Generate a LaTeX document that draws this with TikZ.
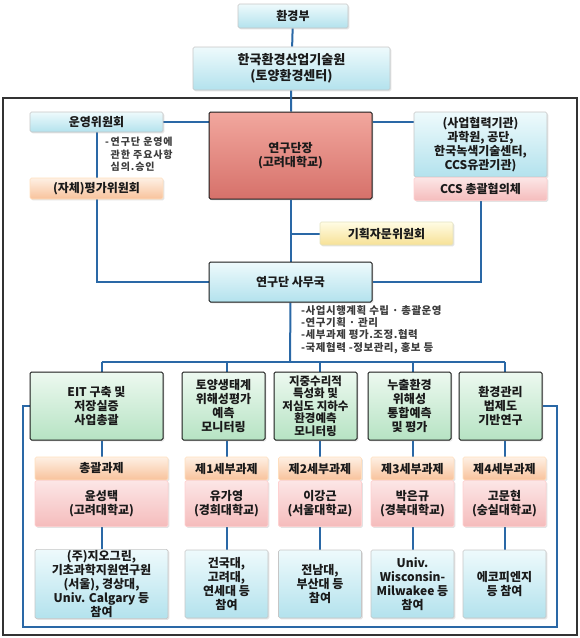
\documentclass[tikz,border=0pt]{standalone}
\usepackage{fontspec}
\setmainfont{Noto Sans CJK KR}
\usepackage{tikz}
\usetikzlibrary{positioning,shadows,backgrounds}
\definecolor{ink}{HTML}{1A1A1A}
\definecolor{linkblue}{HTML}{2A68A6}
\definecolor{skytop}{HTML}{EEFAFC}
\definecolor{skybot}{HTML}{B3E2ED}
\definecolor{redtop}{HTML}{F2A79E}
\definecolor{redbot}{HTML}{D6716A}
\definecolor{orgtop}{HTML}{FEF0E4}
\definecolor{orgbot}{HTML}{F8C29B}
\definecolor{pnktop}{HTML}{FCE6E6}
\definecolor{pnkbot}{HTML}{F5BCBC}
\definecolor{ylwtop}{HTML}{FFFCE4}
\definecolor{ylwbot}{HTML}{F7E196}
\definecolor{grntop}{HTML}{EDF9F0}
\definecolor{grnbot}{HTML}{B6E3C3}
\tikzset{
  box/.style={rounded corners=1.5pt,align=center,inner sep=1pt,text=ink,
              font=\bfseries\fontsize{12}{14}\selectfont,
              drop shadow={opacity=0.22,shadow xshift=1.3pt,shadow yshift=-1.3pt}},
  skybox/.style={box,draw=gray!45,line width=0.6pt,top color=skytop,bottom color=skybot},
  officebox/.style={box,draw=ink,line width=1pt,top color=skytop,bottom color=skybot},
  headbox/.style={box,draw=ink,line width=1pt,top color=redtop,bottom color=redbot},
  orgbox/.style={box,draw=orange!25,line width=0.6pt,top color=orgtop,bottom color=orgbot},
  pnkbox/.style={box,draw=red!18,line width=0.6pt,top color=pnktop,bottom color=pnkbot},
  ylwbox/.style={box,draw=yellow!40!gray!40,line width=0.6pt,top color=ylwtop,bottom color=ylwbot},
  grnbox/.style={box,draw=ink,line width=1pt,top color=grntop,bottom color=grnbot},
  note/.style={align=left,inner sep=0pt,text=ink!85,
               font=\bfseries\fontsize{10}{12.5}\selectfont\addfontfeature{LetterSpace=9}},
  link/.style={draw=linkblue,line width=2pt},
  frame/.style={draw=black!80,line width=1.4pt}
}

\begin{document}
\begin{tikzpicture}[x=1pt,y=-1pt]
    \path[use as bounding box] (0,0) rectangle (580,638);

    \node[skybox,minimum width=110pt,minimum height=24pt] (moe) at (293,16) {환경부};
    \node[skybox,font=\bfseries\fontsize{13}{16}\selectfont,
          minimum width=197pt,minimum height=43pt] (keiti) at (291.5,68.5)
      {한국환경산업기술원\\(토양환경센터)};

    \node[skybox,minimum width=133pt,minimum height=20pt] (steer) at (96.5,122) {운영위원회};
    \node[orgbox,minimum width=133pt,minimum height=21pt] (evalc) at (96.5,188.5) {(자체)평가위원회};
    \node[note,anchor=north west] (steernote) at (105,137)
      {-\,연구단 운영에\\\hphantom{-\,}관한 주요사항\\\hphantom{-\,}심의.승인};
    \node[headbox,minimum width=163pt,minimum height=87pt] (head) at (290.5,155.5)
      {연구단장\\(고려대학교)};
    \node[skybox,minimum width=133pt,minimum height=65pt] (partner) at (480.5,144.5)
      {(사업협력기관)\\과학원, 공단,\\한국녹색기술센터,\\CCS유관기관)};
    \node[pnkbox,minimum width=133pt,minimum height=23pt,anchor=north] (ccs) at (partner.south)
      {CCS 총괄협의체};
    \node[ylwbox,minimum width=133pt,minimum height=23pt] (advise) at (386.5,233.5) {기획자문위원회};
    \node[officebox,minimum width=163pt,minimum height=40pt] (office) at (290.5,282) {연구단 사무국};
    \node[note,anchor=north west,font=\bfseries\fontsize{10.5}{12.4}\selectfont\addfontfeature{LetterSpace=5}]
      (officenote) at (301,305)
      {-사업시행계획 수립 · 총괄운영\\-연구기획 · 관리\\-세부과제 평가.조정.협력\\-국제협력 -정보관리, 홍보 등};
    \coordinate (bus) at (290,362);

    % research columns
    \node[grnbox,minimum width=133pt,minimum height=68pt] (col1) at (96.5,406)
      {EIT 구축 및\\저장실증\\사업총괄};
    \node[grnbox,minimum width=83pt,minimum height=68pt] (col2) at (223.5,406)
      {토양생태계\\위해성평가\\예측\\모니터링};
    \node[grnbox,minimum width=83pt,minimum height=68pt,
          font=\bfseries\fontsize{11.5}{12.6}\selectfont] (col3) at (315.5,406)
      {지중수리적\\특성화 및\\저심도 지하수\\환경예측\\모니터링};
    \node[grnbox,minimum width=83pt,minimum height=68pt] (col4) at (409.5,406)
      {누출환경\\위해성\\통합예측\\및 평가};
    \node[grnbox,minimum width=83pt,minimum height=68pt] (col5) at (500.5,406)
      {환경관리\\법제도\\기반연구};

    \node[orgbox,minimum width=133pt,minimum height=23pt] (task1) at (101.5,468.5) {총괄과제};
    \node[orgbox,minimum width=83pt,minimum height=23pt] (task2) at (226.5,468.5) {제1세부과제};
    \node[orgbox,minimum width=83pt,minimum height=23pt] (task3) at (320,468.5) {제2세부과제};
    \node[orgbox,minimum width=83pt,minimum height=23pt] (task4) at (412.5,468.5) {제3세부과제};
    \node[orgbox,minimum width=83pt,minimum height=23pt] (task5) at (504.5,468.5) {제4세부과제};

    \node[pnkbox,minimum width=133pt,minimum height=46pt,anchor=north] (lead1) at (task1.south) {윤성택\\(고려대학교)};
    \node[pnkbox,minimum width=83pt,minimum height=46pt,anchor=north] (lead2) at (task2.south) {유가영\\(경희대학교)};
    \node[pnkbox,minimum width=83pt,minimum height=46pt,anchor=north] (lead3) at (task3.south) {이강근\\(서울대학교)};
    \node[pnkbox,minimum width=83pt,minimum height=46pt,anchor=north] (lead4) at (task4.south) {박은규\\(경북대학교)};
    \node[pnkbox,minimum width=83pt,minimum height=46pt,anchor=north] (lead5) at (task5.south) {고문현\\(숭실대학교)};

    \node[skybox,minimum width=133pt,minimum height=68pt] (join1) at (101.5,584)
      {(주)지오그린,\\기초과학지원연구원\\(서울), 경상대,\\Univ. Calgary 등\\참여};
    \node[skybox,minimum width=83pt,minimum height=68pt] (join2) at (226.5,584)
      {건국대,\\고려대,\\연세대 등\\참여};
    \node[skybox,minimum width=83pt,minimum height=68pt] (join3) at (320,584)
      {전남대,\\부산대 등\\참여};
    \node[skybox,minimum width=83pt,minimum height=68pt] (join4) at (412.5,584)
      {Univ.\\Wisconsin-\\Milwakee 등\\참여};
    \node[skybox,minimum width=83pt,minimum height=68pt] (join5) at (504.5,584)
      {에코피엔지\\등 참여};

    \coordinate (loopL) at (23,627);
    \coordinate (loopR) at (557,627);

    \begin{scope}[on background layer]
      \draw[frame] (3,98) rectangle (577,635);
      \draw[link] (moe) -- (keiti);
      \draw[link] (keiti) -- (head);
      \draw[link] (head) -- (office);
      \draw[link] (steer.east) -- (steer.east -| head.west);
      \draw[link] (head.east |- steer) -- (partner.west |- steer);
      \draw[link] (steer.south) -- (steer.south |- office) -- (office.west);
      \draw[link] (ccs.south) |- (office.east);
      \draw[link] (advise.west) -- (advise.west -| head.south);
      \draw[link] (office.south) -- (bus);
      \draw[link] (task1.north |- bus) -- (task5.north |- bus);
      \foreach \i in {1,...,5}{
        \draw[link] (task\i.north |- bus) -- (task\i.north |- col\i.north);
        \draw[link] (task\i.north |- col\i.south) -- (task\i.north);
        \draw[link] (lead\i) -- (join\i);
      }
      \draw[link] (col1.west) -| (loopL) -- (loopR) |- (col5.east);
    \end{scope}
  \end{tikzpicture}
\end{document}
